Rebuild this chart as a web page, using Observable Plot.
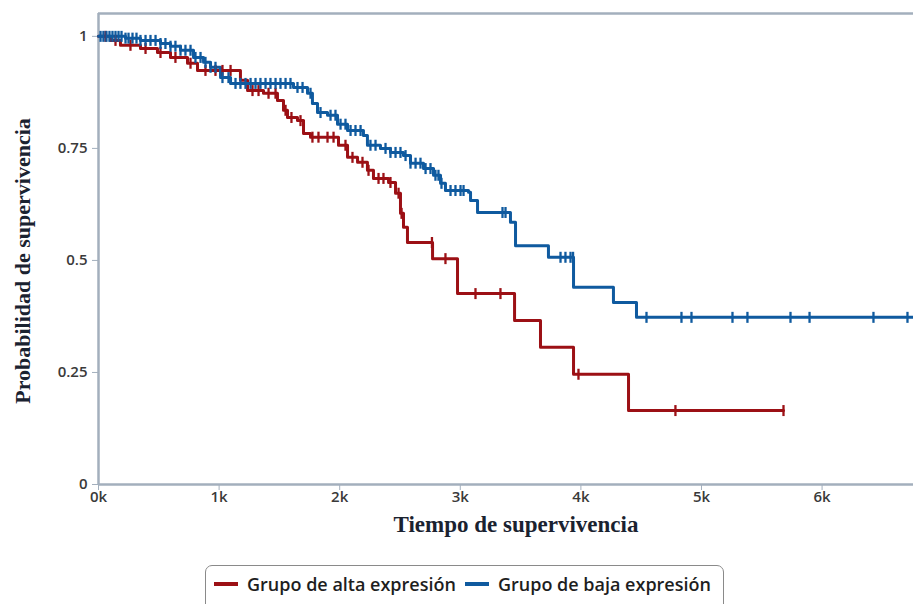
<!DOCTYPE html>
<html>
<head>
<meta charset="utf-8">
<script src="https://cdn.jsdelivr.net/npm/d3@7"></script>
<script src="https://cdn.jsdelivr.net/npm/@observablehq/plot@0.6"></script>
<style>
  html, body { margin: 0; padding: 0; background: #fff; }
  #wrap { position: relative; width: 913px; height: 604px; overflow: hidden; }
  #legend {
    position: absolute; left: 205px; top: 565px; width: 519px; height: 48px;
    border: 1.5px solid #8a8a8a; border-radius: 7px; box-sizing: border-box;
    font-family: "Open Sans", sans-serif; font-weight: 600; font-size: 18px; color: #1e1e1e;
    display: flex; align-items: flex-start; padding-top: 6px; padding-left: 8px;
  }
  .item { display: flex; align-items: center; margin-right: 9px; }
  .sw { width: 24px; height: 4px; margin-right: 9px; }
</style>
</head>
<body>
<div id="wrap">
  <div id="chart"></div>
  <div id="legend"></div>
</div>
<script>
// ---- data ----
const groups = ["Grupo de alta expresión", "Grupo de baja expresión"];
const colors = ["#9c1015", "#0f5a9f"];

// high expression group: event times (days) and survival after each step
const highT = [0,99,182,348,489,597,738,821,1177,1236,1368,1484,1534,1567,1650,1700,1758,1990,2065,2148,2230,2280,2405,2463,2504,2529,2562,2770,2977,3450,3665,3939,4395,5680];
const highS = [1,0.991,0.980,0.973,0.964,0.953,0.940,0.924,0.902,0.879,0.873,0.857,0.835,0.819,0.812,0.783,0.775,0.757,0.730,0.719,0.701,0.683,0.674,0.650,0.605,0.574,0.540,0.504,0.426,0.366,0.306,0.246,0.165,0.165];
const highCensor = [58,141,265,390,514,638,763,887,970,1028,1095,1277,1327,1410,1468,1551,1600,1675,1774,1824,1899,1949,2048,2106,2189,2239,2322,2363,2421,2488,2513,2765,2877,3126,3333,3980,4784,5680];

// low expression group
const lowT = [0,224,348,514,597,680,788,871,929,1012,1095,1617,1733,1774,1816,1899,1982,2065,2197,2230,2338,2421,2529,2587,2695,2778,2836,2877,3068,3085,3143,3416,3458,3731,3939,4270,4461,6758];
const lowS = [1,0.996,0.991,0.984,0.978,0.969,0.953,0.942,0.931,0.908,0.895,0.886,0.873,0.850,0.830,0.824,0.804,0.790,0.779,0.757,0.750,0.741,0.734,0.717,0.705,0.690,0.672,0.656,0.652,0.634,0.607,0.585,0.533,0.507,0.440,0.406,0.373,0.373];
const lowCensor = [17,41,66,91,116,141,166,191,224,249,282,315,348,390,431,473,514,555,597,638,680,721,763,804,846,887,929,970,1028,1078,1136,1177,1219,1261,1302,1343,1385,1426,1468,1509,1551,1592,1650,1692,1758,1841,1924,1965,2007,2048,2090,2131,2173,2255,2297,2380,2421,2463,2504,2546,2587,2629,2670,2712,2753,2794,2819,2844,2919,2960,3002,3027,3350,3375,3831,3872,3914,3935,4544,4834,4917,5257,5381,5738,5896,6426,6708];

const xTicks = [0,1000,2000,3000,4000,5000,6000];
const xTickLabels = ["0k","1k","2k","3k","4k","5k","6k"];
const yTicks = [0,0.25,0.5,0.75,1];
const yTickLabels = ["0","0.25","0.5","0.75","1"];
const xTitle = "Tiempo de supervivencia";
const yTitle = "Probabilidad de supervivencia";

// ---- build tables ----
function steps(T, S, g) { return T.map((t, i) => ({t, s: S[i], g})); }
function levelAt(T, S, t) { let v = S[0]; for (let i = 0; i < T.length; i++) if (T[i] <= t) v = S[i]; return v; }
const lines = [...steps(highT, highS, groups[0]), ...steps(lowT, lowS, groups[1])];
const censors = [
  ...highCensor.map(t => ({t, s: levelAt(highT, highS, t), g: groups[0]})),
  ...lowCensor.map(t => ({t, s: levelAt(lowT, lowS, t), g: groups[1]}))
];

const vtick = { draw(ctx, size) { ctx.moveTo(0, -5.5); ctx.lineTo(0, 5.5); } };
const axisColor = "#a3afbd";

const chart = Plot.plot({
  width: 913, height: 548,
  marginLeft: 98, marginRight: 0, marginTop: 13, marginBottom: 64,
  style: { fontFamily: "'Open Sans', sans-serif", fontSize: "14.5px", color: "#3a3a3a", background: "transparent", overflow: "visible" },
  x: { domain: [0, 6758], ticks: xTicks, tickFormat: d => xTickLabels[xTicks.indexOf(d)], label: null, tickSize: 6, tickPadding: 1 },
  y: { domain: [0, 1.051], ticks: yTicks, tickFormat: d => yTickLabels[yTicks.indexOf(d)], label: null, tickSize: 6, tickPadding: 5 },
  color: { domain: groups, range: colors },
  marks: [
    Plot.ruleY([0], { stroke: axisColor, strokeWidth: 2.5 }),
    Plot.ruleX([0], { stroke: axisColor, strokeWidth: 2.5 }),
    Plot.ruleY([1.051], { stroke: axisColor, strokeWidth: 2.5 }),
    Plot.line(lines, { x: "t", y: "s", z: "g", stroke: "g", curve: "step-after", strokeWidth: 3 }),
    Plot.dot(censors, { x: "t", y: "s", stroke: "g", symbol: vtick, strokeWidth: 2.3, fill: "none", r: 4 }),
    Plot.text([xTitle], { frameAnchor: "bottom", dy: 47, dx: 10, text: d => d, fontFamily: "'Liberation Serif', serif", fontWeight: "bold", fontSize: 23, fill: "#1a2230" }),
    Plot.text([yTitle], { frameAnchor: "left", textAnchor: "middle", dx: -76, dy: 12, rotate: -90, text: d => d, fontFamily: "'Liberation Serif', serif", fontWeight: "bold", fontSize: 22, fill: "#1a2230" })
  ]
});
chart.querySelectorAll('[aria-label$="axis tick label"]').forEach(n => { n.setAttribute("font-weight", "600"); n.setAttribute("font-size", "15"); n.setAttribute("fill", "#3a3a3a"); });
chart.querySelectorAll('[aria-label$="axis tick"]').forEach(n => n.setAttribute("stroke", axisColor));
document.getElementById("chart").appendChild(chart);

const legend = document.getElementById("legend");
groups.forEach((g, i) => {
  const it = document.createElement("div"); it.className = "item";
  const sw = document.createElement("div"); sw.className = "sw"; sw.style.background = colors[i];
  const tx = document.createElement("span"); tx.textContent = g;
  it.appendChild(sw); it.appendChild(tx); legend.appendChild(it);
});
</script>
</body>
</html>
